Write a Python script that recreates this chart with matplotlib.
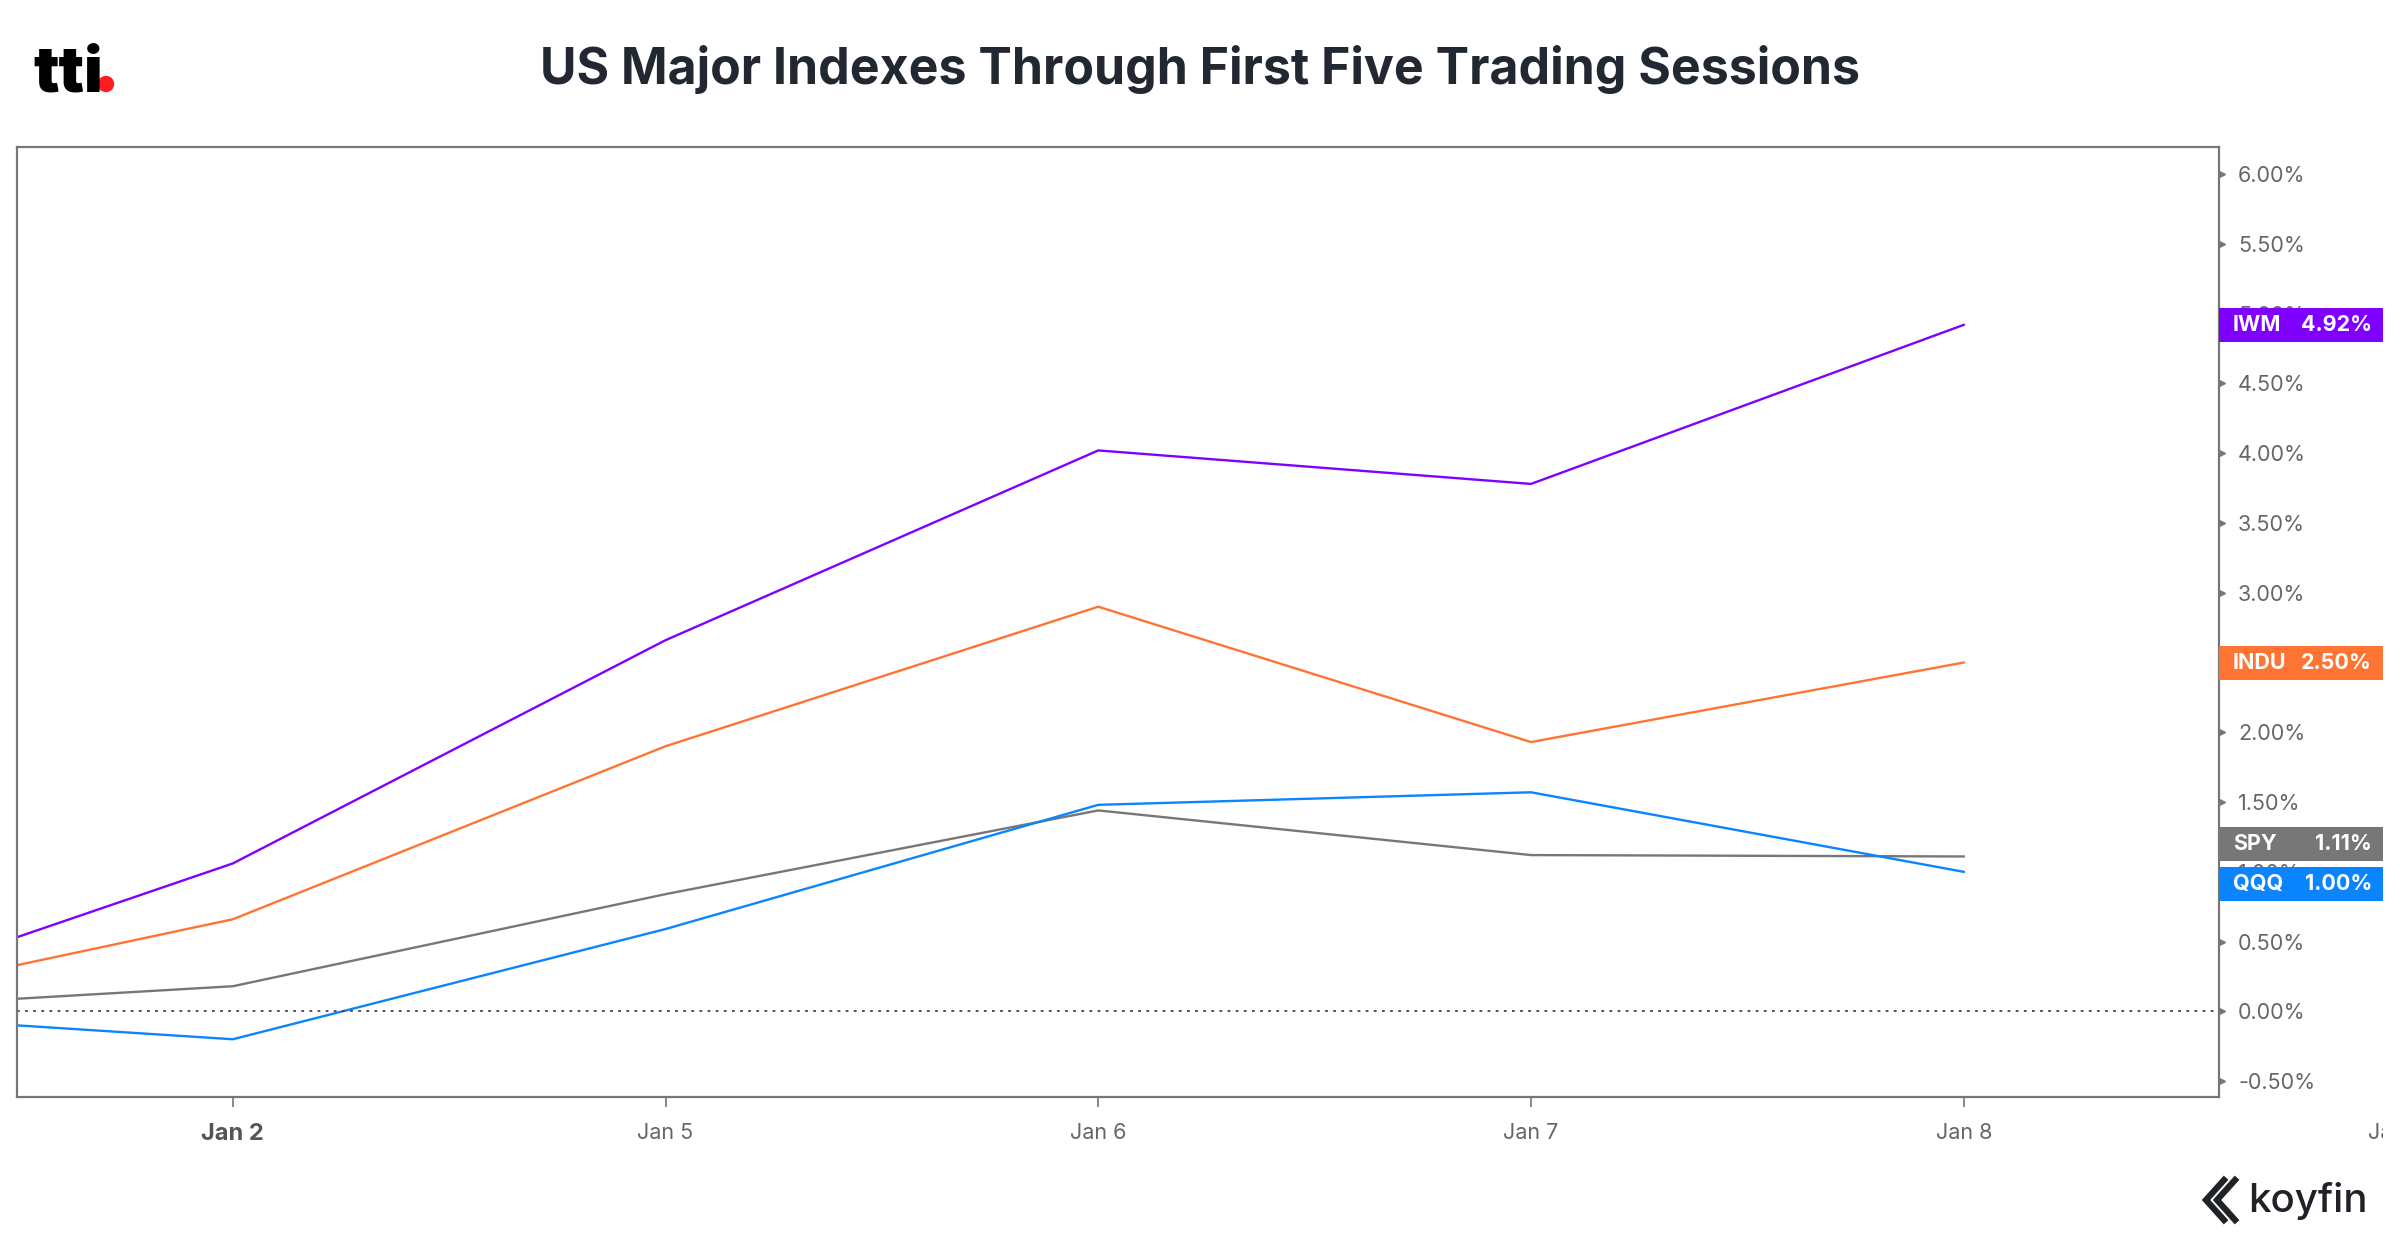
import matplotlib.pyplot as plt
from matplotlib.patches import Ellipse, Rectangle
from matplotlib.lines import Line2D
from matplotlib.transforms import Bbox
import matplotlib.transforms as mtransforms

plt.rcParams['font.family'] = ['Inter', 'DejaVu Sans']

# data: % change since Dec 31 close
dates = ["Dec 31", "Jan 2", "Jan 5", "Jan 6", "Jan 7", "Jan 8"]
iwm = [0.00, 1.06, 2.66, 4.02, 3.78, 4.92]
indu = [0.00, 0.66, 1.90, 2.90, 1.93, 2.50]
spy = [0.00, 0.18, 0.84, 1.44, 1.12, 1.11]
qqq = [0.00, -0.20, 0.59, 1.48, 1.57, 1.00]
tickers = ["IWM", "INDU", "SPY", "QQQ"]
colors = ["#8000FF", "#FF7433", "#777777", "#0A84FF"]
yticks = [-0.5, 0.0, 0.5, 1.0, 1.5, 2.0, 2.5, 3.0, 3.5, 4.0, 4.5, 5.0, 5.5, 6.0]
next_day = "Jan 9"

series = [iwm, indu, spy, qqq]
x = list(range(-1, len(dates) - 1))  # Jan 2 -> 0

fig = plt.figure(figsize=(24, 12.4), dpi=100)
ax = fig.add_axes([0.0071, 0.1153, 0.9175, 0.7662])

for vals, c in zip(series, colors):
    ax.plot(x, vals, color=c, lw=1.7)

ax.axhline(0, color="#444444", lw=1.3, ls=(0, (1.5, 3)))

ax.set_xlim(-0.4986, 4.59)
ax.set_ylim(-0.614, 6.195)

for s in ax.spines.values():
    s.set_color("#777777")
    s.set_linewidth(1.6)

# x ticks
ax.set_xticks(x[1:])
ax.set_xticklabels(dates[1:])
ax.tick_params(axis='x', length=7.2, width=1.2, color="#777777", pad=11.5,
               labelsize=15.5, labelcolor="#666666")
lab0 = ax.get_xticklabels()[0]
lab0.set_fontweight('bold')
lab0.set_fontsize(17)
lab0.set_color("#555555")

# next day label, cut by the chart container
t9 = ax.annotate(next_day, xy=(len(dates) - 1, 0), xycoords=ax.get_xaxis_transform(),
                 xytext=(0, -26), textcoords='offset points', ha='center', va='center',
                 fontsize=15.5, color="#666666", annotation_clip=False)
t9.set_clip_on(True)
t9.set_clip_box(Bbox([[0, 0], [2383, 1240]]))

# y ticks on the right
ax.yaxis.tick_right()
ax.set_yticks(yticks)
ax.set_yticklabels([f"{v:.2f}%" for v in yticks])
ax.tick_params(axis='y', length=0, pad=13.7, labelsize=15.5, labelcolor="#666666")
trans_y = mtransforms.blended_transform_factory(ax.transAxes, ax.transData)
ax.plot([1.0] * len(yticks), yticks, ls='none', marker='>', ms=4.5,
        color="#777777",
        transform=trans_y + mtransforms.ScaledTranslation(3 / 100, 0, fig.dpi_scale_trans),
        clip_on=False)

# last-value labels on the right axis, pushed apart when they collide
last = [v[-1] for v in series]
pos = list(last)
sep = 0.285  # data units between stacked labels
order = sorted(range(len(pos)), key=lambda i: pos[i])
for _ in range(10):
    for a, b in zip(order[:-1], order[1:]):
        if pos[b] - pos[a] < sep:
            m = (pos[a] + pos[b]) / 2
            pos[a], pos[b] = m - sep / 2, m + sep / 2

for t, c, v, p in zip(tickers, colors, last, pos):
    disp = ax.transData.transform((0, p))[1]
    fig.add_artist(Rectangle((2219 / 2400, (disp - 17) / 1240), 164 / 2400, 34 / 1240,
                             transform=fig.transFigure, facecolor=c, edgecolor='none',
                             zorder=5))
    fig.text(2233 / 2400, disp / 1240, t, color='white', fontsize=15.5, fontweight='bold',
             ha='left', va='center', zorder=6)
    fig.text(2372 / 2400, disp / 1240, f"{v:.2f}%", color='white', fontsize=15.5,
             fontweight='bold', ha='right', va='center', zorder=6)

# title
fig.text(0.5, 0.944, "US Major Indexes Through First Five Trading Sessions",
         ha='center', va='center', fontsize=36, fontweight='bold', color="#222831")

# tti logo
fig.text(33 / 2400, 1 - 92 / 1240, "tti", ha='left', va='baseline', fontsize=46,
         fontweight='black', color='black')
fig.add_artist(Ellipse((106 / 2400, 1 - 84 / 1240), 15 / 2400, 15 / 1240,
                       transform=fig.transFigure, color="#FF1E1E"))

# koyfin logo
fig.text(2368 / 2400, 1 - 1212 / 1240, "koyfin", ha='right', va='baseline',
         fontsize=29, fontweight='medium', color="#1F2328")
for dx in (0, 11):
    xs = [(2224 + dx) / 2400, (2206 + dx) / 2400, (2224 + dx) / 2400]
    ys = [1 - 1180 / 1240, 1 - 1200 / 1240, 1 - 1220 / 1240]
    fig.add_artist(Line2D(xs, ys, transform=fig.transFigure, color="#1F2328",
                          lw=4.5, solid_joinstyle='miter'))

fig.savefig("out.png", dpi=100)
